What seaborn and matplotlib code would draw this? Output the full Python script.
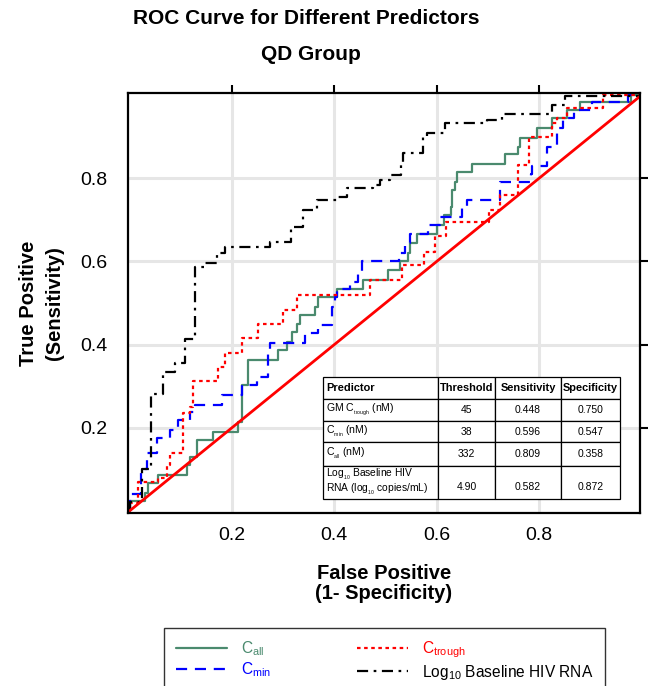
import matplotlib
matplotlib.use("Agg")
import matplotlib.pyplot as plt
import seaborn as sns

# ---------------- data ----------------
call_fpr = [0.0, 0.0, 0.03, 0.036, 0.056, 0.112, 0.118, 0.132, 0.163, 0.212, 0.22, 0.231, 0.29, 0.307,
            0.317, 0.327, 0.333, 0.362, 0.368, 0.405, 0.456, 0.504, 0.528, 0.543, 0.547, 0.561, 0.6,
            0.615, 0.627, 0.629, 0.635, 0.639, 0.668, 0.733, 0.758, 0.762, 0.795, 0.826, 0.854, 0.879,
            0.98, 1.0]
call_tpr = [0.0, 0.024, 0.043, 0.067, 0.087, 0.11, 0.13, 0.17, 0.19, 0.214, 0.303, 0.363, 0.387, 0.406,
            0.43, 0.45, 0.471, 0.49, 0.514, 0.533, 0.555, 0.579, 0.6, 0.62, 0.644, 0.666, 0.688,
            0.712, 0.73, 0.772, 0.79, 0.815, 0.834, 0.858, 0.875, 0.897, 0.92, 0.944, 0.964, 0.983,
            1.0, 1.0]

cmin_fpr = [0.0, 0.0, 0.022, 0.034, 0.054, 0.079, 0.095, 0.118, 0.128, 0.18, 0.22, 0.249, 0.27, 0.275,
            0.342, 0.368, 0.395, 0.401, 0.405, 0.43, 0.446, 0.454, 0.527, 0.538, 0.547, 0.582, 0.606,
            0.649, 0.66, 0.723, 0.785, 0.787, 0.815, 0.834, 0.846, 0.869, 0.904, 0.973, 1.0]
cmin_tpr = [0.0, 0.04, 0.1, 0.14, 0.175, 0.195, 0.219, 0.238, 0.255, 0.279, 0.303, 0.322, 0.38, 0.405,
            0.428, 0.447, 0.49, 0.514, 0.534, 0.551, 0.575, 0.6, 0.62, 0.644, 0.666, 0.688, 0.707,
            0.73, 0.748, 0.79, 0.81, 0.83, 0.875, 0.92, 0.944, 0.964, 0.983, 1.0, 1.0]

ctrough_fpr = [0.0, 0.0, 0.017, 0.056, 0.073, 0.079, 0.104, 0.118, 0.124, 0.173, 0.186, 0.22, 0.251,
               0.3, 0.327, 0.469, 0.532, 0.575, 0.596, 0.618, 0.703, 0.723, 0.758, 0.781, 0.826,
               0.834, 0.854, 0.924, 1.0]
ctrough_tpr = [0.0, 0.02, 0.07, 0.079, 0.11, 0.139, 0.235, 0.25, 0.312, 0.346, 0.38, 0.415, 0.45,
               0.483, 0.519, 0.555, 0.591, 0.623, 0.66, 0.695, 0.723, 0.76, 0.832, 0.9, 0.933,
               0.944, 0.97, 1.0, 1.0]

rna_fpr = [0.0, 0.0, 0.024, 0.042, 0.065, 0.089, 0.108, 0.128, 0.147, 0.171, 0.186, 0.274, 0.316,
           0.339, 0.366, 0.405, 0.424, 0.475, 0.489, 0.508, 0.53, 0.534, 0.573, 0.581, 0.616, 0.698,
           0.727, 0.826, 0.85, 1.0]
rna_tpr = [0.0, 0.022, 0.1, 0.28, 0.335, 0.356, 0.413, 0.587, 0.596, 0.62, 0.635, 0.647, 0.683,
           0.724, 0.748, 0.755, 0.776, 0.784, 0.795, 0.808, 0.84, 0.86, 0.9, 0.909, 0.933, 0.94,
           0.955, 0.976, 0.997, 1.0]

diag_x = [0.0, 1.0]
diag_y = [0.0, 1.0]

tick_values = [0.2, 0.4, 0.6, 0.8]
tick_labels = ["0.2", "0.4", "0.6", "0.8"]

legend_labels = [r"C$_{\mathrm{all}}$", r"C$_{\mathrm{min}}$",
                 r"C$_{\mathrm{trough}}$", r"Log$_{\mathrm{10}}$ Baseline HIV RNA"]

table_header = ["Predictor", "Threshold", "Sensitivity", "Specificity"]
table_predictors = [r"GM C$_{_{\mathrm{trough}}}$ (nM)", r"C$_{_{\mathrm{min}}}$ (nM)",
                    r"C$_{_{\mathrm{all}}}$ (nM)",
                    "Log$_{_{\\mathrm{10}}}$ Baseline HIV\nRNA (log$_{_{\\mathrm{10}}}$ copies/mL)"]
table_threshold = ["45", "38", "332", "4.90"]
table_sensitivity = ["0.448", "0.596", "0.809", "0.582"]
table_specificity = ["0.750", "0.547", "0.358", "0.872"]

# ---------------- style ----------------
sns.set_style("white")
plt.rcParams["font.family"] = ["Liberation Sans", "DejaVu Sans"]
plt.rcParams["mathtext.fontset"] = "custom"
plt.rcParams["mathtext.rm"] = "Liberation Sans"
plt.rcParams["mathtext.it"] = "Liberation Sans:italic"
plt.rcParams["mathtext.bf"] = "Liberation Sans:bold"
for k in ["text.color", "axes.labelcolor", "xtick.color", "ytick.color", "axes.edgecolor"]:
    plt.rcParams[k] = "black"

W, H = 652, 686
fig = plt.figure(figsize=(W / 100, H / 100), dpi=100)
ax = fig.add_axes([128 / W, 1 - 513 / H, (640 - 128) / W, (513 - 93) / H])

green = "#4a8a6e"
lw = 1.6
h_all = sns.lineplot(x=call_fpr, y=call_tpr, ax=ax, estimator=None, sort=False,
                     drawstyle="steps-post", color=green, lw=lw).lines[-1]
h_min = sns.lineplot(x=cmin_fpr, y=cmin_tpr, ax=ax, estimator=None, sort=False,
                     drawstyle="steps-post", color="#0000ff", lw=lw,
                     linestyle=(0, (5, 3.5))).lines[-1]
h_tr = sns.lineplot(x=ctrough_fpr, y=ctrough_tpr, ax=ax, estimator=None, sort=False,
                    drawstyle="steps-post", color="#ff0000", lw=lw,
                    linestyle=(0, (1.6, 1.6))).lines[-1]
h_rna = sns.lineplot(x=rna_fpr, y=rna_tpr, ax=ax, estimator=None, sort=False,
                     drawstyle="steps-post", color="black", lw=lw,
                     linestyle=(0, (5, 2.5, 1.2, 2.5))).lines[-1]
sns.lineplot(x=diag_x, y=diag_y, ax=ax, estimator=None, sort=False, color="#ff0000", lw=2.0)

ax.set_xlim(-0.003, 0.997)
ax.set_ylim(-0.005, 1.005)
ax.set_xticks(tick_values)
ax.set_xticklabels(tick_labels)
ax.set_yticks(tick_values)
ax.set_yticklabels(tick_labels)
ax.grid(True, color="#e6e6e6", lw=2.2)
ax.set_axisbelow(True)
for s in ax.spines.values():
    s.set_linewidth(1.6)
    s.set_color("black")
ax.tick_params(axis="both", direction="out", length=6, width=1.5, color="black",
               labelcolor="black", top=True, right=True, labeltop=False, labelright=False,
               labelsize=14)
ax.tick_params(axis="x", pad=4)
ax.tick_params(axis="y", pad=9)

ax.set_xlabel("False Positive\n(1- Specificity)", fontsize=14.5, fontweight="bold",
              linespacing=1.05, color="black")
ax.xaxis.set_label_coords(0.5, (513 - 564) / 420)
ax.set_ylabel("True Positive\n(Sensitivity)", fontsize=14.5, fontweight="bold",
              linespacing=1.45, color="black")
ax.yaxis.set_label_coords((64 - 128) / 512, 0.5)

fig.text(306 / W, 1 - 19 / H, "ROC Curve for Different Predictors", ha="center", va="center",
         fontsize=15, fontweight="bold", color="black")
fig.text(311 / W, 1 - 55 / H, "QD Group", ha="center", va="center",
         fontsize=15, fontweight="bold", color="black")

# ---------------- table ----------------
rows = [table_header] + [[p, t, se, sp] for p, t, se, sp in
                         zip(table_predictors, table_threshold, table_sensitivity,
                             table_specificity)]
rows[-1] = [rows[-1][0]] + ["\n" + v for v in rows[-1][1:]]
x0 = (325 - 129.5) / 512.5
x1 = (622 - 129.5) / 512.5
y0 = (511 - 497) / 416
y1 = (511 - 376) / 416
tbl = ax.table(cellText=rows, cellLoc="center", bbox=[x0, y0, x1 - x0, y1 - y0], zorder=5)
tbl.auto_set_font_size(False)
tbl.set_fontsize(7.5)
col_w = [115, 57, 66, 59]
row_h = [22, 22, 21, 23, 33]
for (r, c), cell in tbl.get_celld().items():
    cell.set_width(col_w[c])
    cell.set_height(row_h[r])
    cell.set_edgecolor("black")
    cell.set_linewidth(0.9)
    cell.set_facecolor("white")
    cell.get_text().set_color("black")
    if r == 0:
        cell.get_text().set_fontweight("bold")
        cell.get_text().set_fontsize(7.9)
    elif c == 0:
        cell.get_text().set_fontsize(7.6 if r < len(rows) - 1 else 7.4)
    if r == len(rows) - 1:
        cell.get_text().set_linespacing(1.0)
    if c == 0:
        cell._loc = "left"
        cell.PAD = 0.025
        cell.get_text().set_ha("left")

# ---------------- legend ----------------
leg = fig.legend([h_all, h_min, h_tr, h_rna], legend_labels, ncol=2,
                 loc="upper left", bbox_to_anchor=(164 / W, 1 - 628 / H),
                 fontsize=11.2, frameon=True, fancybox=False, shadow=False,
                 edgecolor="black", handlelength=3.3, handletextpad=0.9,
                 columnspacing=5.5, borderpad=0.75, labelspacing=0.15,
                 borderaxespad=0)
leg.get_frame().set_linewidth(1.0)
for txt, col in zip(leg.get_texts(), [green, "#0000ff", "#ff0000", "black"]):
    txt.set_color(col)

fig.savefig("out.png", dpi=100)
